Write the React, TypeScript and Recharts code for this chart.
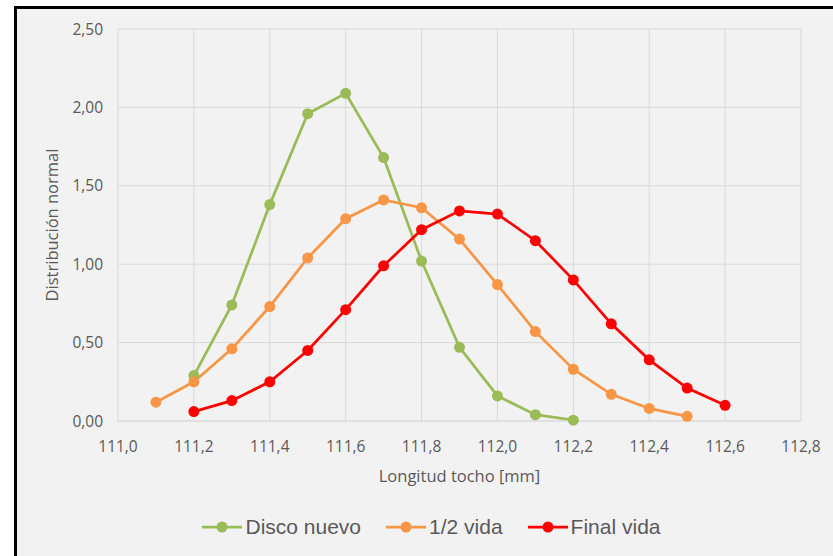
import React from "react";
import {
  LineChart,
  Line,
  XAxis,
  YAxis,
  CartesianGrid,
  Legend,
} from "recharts";

const discoNuevoX = [111.2, 111.3, 111.4, 111.5, 111.6, 111.7, 111.8, 111.9, 112.0, 112.1, 112.2];
const discoNuevoY = [0.29, 0.74, 1.38, 1.96, 2.09, 1.68, 1.02, 0.47, 0.16, 0.04, 0.005];

const medioVidaX = [111.1, 111.2, 111.3, 111.4, 111.5, 111.6, 111.7, 111.8, 111.9, 112.0, 112.1, 112.2, 112.3, 112.4, 112.5];
const medioVidaY = [0.12, 0.25, 0.46, 0.73, 1.04, 1.29, 1.41, 1.36, 1.16, 0.87, 0.57, 0.33, 0.17, 0.08, 0.03];

const finalVidaX = [111.2, 111.3, 111.4, 111.5, 111.6, 111.7, 111.8, 111.9, 112.0, 112.1, 112.2, 112.3, 112.4, 112.5, 112.6];
const finalVidaY = [0.06, 0.13, 0.25, 0.45, 0.71, 0.99, 1.22, 1.34, 1.32, 1.15, 0.9, 0.62, 0.39, 0.21, 0.1];

const xTicks = [111.0, 111.2, 111.4, 111.6, 111.8, 112.0, 112.2, 112.4, 112.6, 112.8];
const yTicks = [0, 0.5, 1.0, 1.5, 2.0, 2.5];

const toPoints = (xs: number[], ys: number[]) => xs.map((x, i) => ({ x, y: ys[i] }));

const series = [
  { name: "Disco nuevo", color: "#9bbb59", data: toPoints(discoNuevoX, discoNuevoY) },
  { name: "1/2 vida", color: "#f79646", data: toPoints(medioVidaX, medioVidaY) },
  { name: "Final vida", color: "#ff0000", data: toPoints(finalVidaX, finalVidaY) },
];

const tickFont = { fontFamily: "Open Sans", fontSize: 15.5, fill: "#595959" };
const labelFont = { fontFamily: "Open Sans", fontSize: 16.5, fill: "#595959" };

// legend drawn in series order (recharts reorders the payload)
const LegendContent = () => (
  <div
    style={{
      display: "flex",
      justifyContent: "center",
      alignItems: "center",
      gap: 25,
      fontFamily: "Liberation Sans",
      fontSize: 21,
      color: "#595959",
      height: 40,
      paddingLeft: 62,
    }}
  >
    {series.map((s) => (
      <div key={s.name} style={{ display: "flex", alignItems: "center" }}>
        <svg width={40} height={12} style={{ marginRight: 3 }}>
          <line x1={0} y1={6} x2={40} y2={6} stroke={s.color} strokeWidth={2.75} />
          <circle cx={20} cy={6} r={5.5} fill={s.color} />
        </svg>
        <span>{s.name}</span>
      </div>
    ))}
  </div>
);

const App = () => {
  return (
    <div style={{ position: "absolute", left: 0, top: 0, width: 833, height: 556, background: "#fff", overflow: "hidden" }}>
      <div
        style={{
          position: "absolute",
          left: 14,
          top: 6,
          width: 830,
          height: 560,
          background: "#f2f2f2",
          borderLeft: "3px solid #000",
          borderTop: "3px solid #000",
        }}
      />
      <div style={{ position: "absolute", left: 0, top: 0 }}>
        <LineChart width={833} height={556} margin={{ top: 29, right: 32, bottom: 9, left: 0 }}>
          <CartesianGrid stroke="#d9d9d9" strokeWidth={1} />
          <XAxis
            type="number"
            dataKey="x"
            domain={[111, 112.8]}
            ticks={xTicks}
            tickFormatter={(v: number) => v.toFixed(1).replace(".", ",")}
            tick={tickFont}
            tickLine={false}
            tickSize={0}
            tickMargin={20}
            stroke="#d9d9d9"
            height={86}
            allowDuplicatedCategory={false}
            label={{
              value: "Longitud tocho [mm]",
              position: "insideBottom",
              offset: 25,
              style: labelFont,
            }}
          />
          <YAxis
            type="number"
            domain={[0, 2.5]}
            ticks={yTicks}
            tickFormatter={(v: number) => v.toFixed(2).replace(".", ",")}
            tick={tickFont}
            tickLine={false}
            axisLine={false}
            tickSize={0}
            tickMargin={15}
            width={118}
            label={{
              value: "Distribución normal",
              angle: -90,
              position: "insideLeft",
              offset: 52,
              style: { ...labelFont, textAnchor: "middle" },
            }}
          />
          <Legend verticalAlign="bottom" content={<LegendContent />} wrapperStyle={{ height: 40 }} />
          {series.map((s) => (
            <Line
              key={s.name}
              data={s.data}
              dataKey="y"
              name={s.name}
              stroke={s.color}
              strokeWidth={2.75}
              dot={{ r: 5.5, fill: s.color, stroke: s.color, strokeWidth: 0 }}
              activeDot={false}
              isAnimationActive={false}
            />
          ))}
        </LineChart>
      </div>
    </div>
  );
};

export default App;
